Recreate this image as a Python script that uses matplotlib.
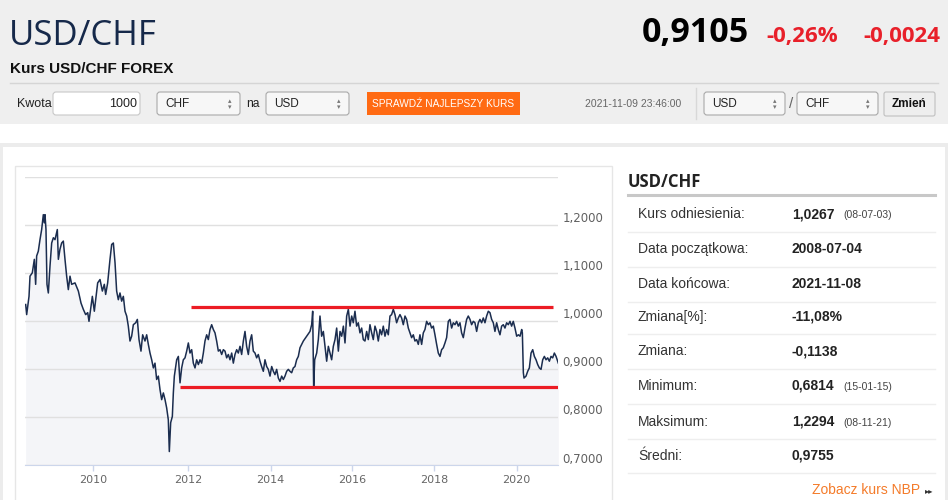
#!/usr/bin/env python

import numpy as np
import matplotlib
matplotlib.use('Agg')
import matplotlib.pyplot as plt
from matplotlib.patches import Rectangle, FancyBboxPatch
from matplotlib.transforms import ScaledTranslation

# USD/CHF quotes (decimal year, rate)
years = [2008.515, 2008.537, 2008.589, 2008.611, 2008.662, 2008.707, 2008.736, 2008.758, 2008.795, 2008.832,
         2008.869, 2008.906, 2008.928, 2008.943, 2008.965, 2008.987, 2009.017, 2009.054, 2009.091, 2009.128,
         2009.165, 2009.216, 2009.239, 2009.275, 2009.312, 2009.349, 2009.386, 2009.423, 2009.460, 2009.497,
         2009.534, 2009.608, 2009.682, 2009.741, 2009.792, 2009.844, 2009.889, 2009.918, 2009.962, 2009.992,
         2010.034, 2010.062, 2010.104, 2010.153, 2010.202, 2010.243, 2010.271, 2010.313, 2010.362, 2010.397,
         2010.432, 2010.467, 2010.501, 2010.536, 2010.571, 2010.606, 2010.641, 2010.676, 2010.711, 2010.745,
         2010.780, 2010.815, 2010.850, 2010.899, 2010.934, 2010.969, 2011.010, 2011.045, 2011.094, 2011.129,
         2011.164, 2011.199, 2011.234, 2011.269, 2011.303, 2011.338, 2011.373, 2011.408, 2011.443, 2011.478,
         2011.513, 2011.547, 2011.582, 2011.603, 2011.631, 2011.666, 2011.687, 2011.708, 2011.757, 2011.792,
         2011.827, 2011.861, 2011.896, 2011.931, 2011.966, 2012.001, 2012.041, 2012.082, 2012.122, 2012.163,
         2012.203, 2012.244, 2012.284, 2012.324, 2012.365, 2012.405, 2012.446, 2012.486, 2012.527, 2012.567,
         2012.608, 2012.648, 2012.688, 2012.729, 2012.769, 2012.810, 2012.850, 2012.891, 2012.931, 2012.972,
         2013.012, 2013.053, 2013.093, 2013.133, 2013.174, 2013.214, 2013.255, 2013.295, 2013.336, 2013.376,
         2013.416, 2013.457, 2013.497, 2013.538, 2013.578, 2013.619, 2013.659, 2013.699, 2013.740, 2013.780,
         2013.821, 2013.861, 2013.902, 2013.942, 2013.983, 2014.024, 2014.065, 2014.105, 2014.146, 2014.187,
         2014.228, 2014.269, 2014.310, 2014.350, 2014.391, 2014.432, 2014.473, 2014.514, 2014.554, 2014.595,
         2014.636, 2014.677, 2014.718, 2014.800, 2014.881, 2014.963, 2015.004, 2015.029, 2015.053, 2015.078,
         2015.127, 2015.167, 2015.208, 2015.249, 2015.290, 2015.331, 2015.372, 2015.413, 2015.454, 2015.494,
         2015.535, 2015.576, 2015.617, 2015.658, 2015.699, 2015.740, 2015.781, 2015.821, 2015.862, 2015.903,
         2015.944, 2015.985, 2016.024, 2016.065, 2016.106, 2016.146, 2016.187, 2016.228, 2016.268, 2016.309,
         2016.350, 2016.390, 2016.431, 2016.472, 2016.512, 2016.553, 2016.593, 2016.634, 2016.675, 2016.715,
         2016.756, 2016.797, 2016.837, 2016.878, 2016.919, 2016.959, 2017.000, 2017.041, 2017.081, 2017.122,
         2017.163, 2017.203, 2017.244, 2017.285, 2017.325, 2017.366, 2017.407, 2017.447, 2017.488, 2017.528,
         2017.569, 2017.610, 2017.650, 2017.691, 2017.732, 2017.772, 2017.813, 2017.854, 2017.894, 2017.935,
         2017.976, 2018.016, 2018.057, 2018.097, 2018.138, 2018.178, 2018.218, 2018.259, 2018.299, 2018.340,
         2018.380, 2018.421, 2018.461, 2018.502, 2018.542, 2018.583, 2018.623, 2018.663, 2018.704, 2018.744,
         2018.785, 2018.825, 2018.866, 2018.906, 2018.947, 2018.987, 2019.028, 2019.068, 2019.108, 2019.149,
         2019.189, 2019.230, 2019.270, 2019.311, 2019.351, 2019.392, 2019.432, 2019.472, 2019.513, 2019.553,
         2019.594, 2019.634, 2019.675, 2019.715, 2019.756, 2019.796, 2019.837, 2019.877, 2019.917, 2019.958,
         2020.000, 2020.040, 2020.080, 2020.120, 2020.136, 2020.160, 2020.176, 2020.224, 2020.264, 2020.304,
         2020.345, 2020.385, 2020.425, 2020.465, 2020.505, 2020.545, 2020.585, 2020.625, 2020.665, 2020.705,
         2020.745, 2020.785, 2020.825, 2020.865, 2020.905, 2020.946, 2021.000]

rates = [1.034, 1.013, 1.051, 1.093, 1.100, 1.128, 1.076, 1.135, 1.145, 1.169,
         1.190, 1.221, 1.204, 1.221, 1.190, 1.076, 1.058, 1.114, 1.162, 1.173,
         1.169, 1.190, 1.128, 1.149, 1.162, 1.166, 1.128, 1.093, 1.065, 1.093,
         1.076, 1.079, 1.062, 1.037, 1.024, 1.013, 1.017, 0.999, 1.030, 1.051,
         1.020, 1.044, 1.079, 1.086, 1.062, 1.076, 1.055, 1.079, 1.128, 1.159,
         1.162, 1.121, 1.062, 1.044, 1.058, 1.041, 1.051, 1.020, 1.010, 0.989,
         0.958, 0.968, 0.992, 0.996, 1.003, 0.961, 0.937, 0.971, 0.958, 0.971,
         0.951, 0.933, 0.919, 0.902, 0.912, 0.878, 0.885, 0.857, 0.836, 0.850,
         0.836, 0.819, 0.794, 0.728, 0.788, 0.801, 0.850, 0.885, 0.919, 0.926,
         0.871, 0.902, 0.919, 0.923, 0.937, 0.954, 0.933, 0.940, 0.912, 0.902,
         0.919, 0.909, 0.919, 0.912, 0.933, 0.958, 0.971, 0.961, 0.982, 0.992,
         0.982, 0.975, 0.958, 0.937, 0.940, 0.930, 0.940, 0.937, 0.923, 0.930,
         0.919, 0.933, 0.912, 0.930, 0.940, 0.933, 0.947, 0.930, 0.958, 0.978,
         0.947, 0.930, 0.958, 0.971, 0.937, 0.933, 0.923, 0.930, 0.916, 0.905,
         0.895, 0.919, 0.905, 0.899, 0.885, 0.905, 0.895, 0.888, 0.899, 0.881,
         0.874, 0.885, 0.878, 0.885, 0.895, 0.899, 0.895, 0.892, 0.902, 0.905,
         0.919, 0.926, 0.944, 0.958, 0.968, 0.978, 0.992, 1.020, 0.860, 0.919,
         0.933, 0.961, 1.010, 0.968, 0.978, 0.947, 0.916, 0.947, 0.933, 0.919,
         0.947, 0.961, 0.985, 0.937, 0.978, 0.968, 0.989, 0.954, 1.010, 1.024,
         0.989, 1.010, 0.996, 1.020, 0.989, 0.996, 0.975, 0.985, 0.961, 0.958,
         0.978, 0.961, 0.992, 0.975, 0.961, 0.989, 0.978, 0.958, 0.982, 0.971,
         0.989, 0.968, 0.982, 0.971, 1.010, 1.013, 1.024, 1.013, 0.996, 1.006,
         1.013, 1.006, 0.992, 1.010, 1.003, 0.985, 0.975, 0.965, 0.971, 0.958,
         0.961, 0.951, 0.971, 0.951, 0.975, 0.982, 0.999, 0.992, 0.996, 0.985,
         0.989, 0.971, 0.951, 0.933, 0.926, 0.940, 0.944, 0.954, 0.965, 0.999,
         1.003, 0.985, 0.996, 0.992, 0.999, 0.989, 0.996, 0.975, 0.965, 0.985,
         1.003, 1.010, 1.003, 0.992, 0.999, 0.996, 0.978, 0.996, 1.003, 0.996,
         1.006, 0.996, 1.010, 1.020, 1.017, 1.003, 0.996, 0.978, 0.996, 0.982,
         0.971, 0.989, 0.992, 0.985, 0.996, 0.992, 0.999, 0.989, 0.999, 0.985,
         0.968, 0.971, 0.968, 0.982, 0.975, 0.892, 0.881, 0.885, 0.895, 0.902,
         0.933, 0.940, 0.926, 0.919, 0.909, 0.902, 0.899, 0.919, 0.926, 0.919,
         0.923, 0.916, 0.926, 0.923, 0.933, 0.926, 0.912]

# hand drawn channel (level, start year, end year)
resistance = (1.028, 2012.06, 2020.87)
support = (0.862, 2011.83, 2021.0)

x_ticks = [2010, 2012, 2014, 2016, 2018, 2020]
y_ticks = [0.7, 0.8, 0.9, 1.0, 1.1, 1.2, 1.3]
y_labels = ['0,7000', '0,8000', '0,9000', '1,0000', '1,1000', '1,2000', '']

# ordinal axis of the stock chart: year -> screen position
ord_years = [2008.5, 2010, 2012, 2014, 2016, 2018, 2020, 2021]
ord_pos = [0, 67.7, 163.3, 245.7, 327.3, 409.3, 491.7, 533.3]

stat_labels = ['Kurs odniesienia:', 'Data początkowa:', 'Data końcowa:', 'Zmiana[%]:',
               'Zmiana:', 'Minimum:', 'Maksimum:', 'Średni:']
stat_values = ['1,0267', '2008-07-04', '2021-11-08', '-11,08%', '-0,1138', '0,6814', '1,2294', '0,9755']
stat_dates = ['(08-07-03)', '', '', '', '', '(15-01-15)', '(08-11-21)', '']

HEAD = ['Open Sans', 'DejaVu Sans']
ARIAL = ['Liberation Sans', 'DejaVu Sans']
NAVY = '#16294a'
RED = '#e8202a'


def select_box(bg, x, w, text):
    bg.add_patch(FancyBboxPatch((x, 92), w, 23, boxstyle='round,pad=0,rounding_size=3',
                                fc='#f7f7f7', ec='#a9a9a9', lw=0.8))
    bg.text(x + 8, 104, text, family=ARIAL, fontsize=8.5, va='center', color='#222222')
    bg.text(x + w - 10, 101, '▴', family='DejaVu Sans', fontsize=5, ha='center', va='center', color='#777777')
    bg.text(x + w - 10, 107, '▾', family='DejaVu Sans', fontsize=5, ha='center', va='center', color='#777777')


def main():
    fig = plt.figure(figsize=(9.48, 5.0), dpi=100)
    fig.patch.set_facecolor('white')

    # page decoration in pixel coordinates
    bg = fig.add_axes([0, 0, 1, 1])
    bg.set_xlim(0, 948)
    bg.set_ylim(500, 0)
    bg.axis('off')

    bg.add_patch(Rectangle((0, 0), 948, 124, color='#efefef', lw=0))
    bg.add_patch(Rectangle((0, 143), 948, 4, color='#ececec', lw=0))
    bg.add_patch(Rectangle((0, 143), 3, 357, color='#ececec', lw=0))
    bg.add_patch(Rectangle((945, 143), 3, 357, color='#ececec', lw=0))
    bg.add_patch(Rectangle((15, 166), 597, 345, fill=False, ec='#e6e6e6', lw=1))

    # header
    bg.text(9, 45, 'USD/CHF', family=HEAD, fontsize=25, color=NAVY, va='baseline')
    bg.text(749, 42, '0,9105', family=HEAD, fontsize=24.5, fontweight='bold', color='black',
            ha='right', va='baseline')
    bg.text(766, 42, '-0,26%', family=HEAD, fontsize=16, fontweight='bold', color=RED, va='baseline')
    bg.text(940, 42, '-0,0024', family=HEAD, fontsize=16, fontweight='bold', color=RED,
            ha='right', va='baseline')
    bg.text(10, 73, 'Kurs USD/CHF FOREX', family=ARIAL, fontsize=11, fontweight='bold',
            color='#111111', va='baseline')
    bg.plot([10, 938], [83, 83], color='#d5d5d5', lw=1)

    # controls row
    bg.text(17, 104, 'Kwota', family=ARIAL, fontsize=9, va='center', color='#222222')
    bg.add_patch(FancyBboxPatch((53, 92), 87, 23, boxstyle='round,pad=0,rounding_size=3',
                                fc='white', ec='#c8c8c8', lw=0.8))
    bg.text(137, 104, '1000', family=ARIAL, fontsize=9, ha='right', va='center', color='#222222')
    select_box(bg, 157, 83, 'CHF')
    bg.text(246, 104, 'na', family=ARIAL, fontsize=8.7, va='center', color='#222222')
    select_box(bg, 266, 83, 'USD')
    bg.add_patch(Rectangle((367, 92), 153, 23, color='#ff6a13', lw=0))
    bg.text(443.5, 104, 'SPRAWDŹ NAJLEPSZY KURS', family=ARIAL, fontsize=7.3, ha='center',
            va='center', color='white')
    bg.text(585, 104, '2021-11-09 23:46:00', family=ARIAL, fontsize=7.5, va='center', color='#666666')
    bg.plot([696, 696], [88, 119], color='#d8d8d8', lw=1)
    select_box(bg, 704, 81, 'USD')
    bg.text(791, 104, '/', family=ARIAL, fontsize=11, ha='center', va='center', color='#666666')
    select_box(bg, 797, 81, 'CHF')
    bg.add_patch(FancyBboxPatch((884, 92), 51, 24, boxstyle='round,pad=0,rounding_size=2',
                                fc='#eeeeee', ec='#c0c0c0', lw=0.8))
    bg.text(909.5, 104, 'Zmień', family=ARIAL, fontsize=8.5, fontweight='bold', ha='center',
            va='center', color='#111111')

    # stats panel
    bg.text(628, 187, 'USD/CHF', family=HEAD, fontsize=12, fontweight='bold', color='#222222',
            va='baseline')
    bg.plot([628, 935], [195, 195], color='#c8c8c8', lw=2.2)
    row_y = [214.3, 249.3, 284, 316.7, 351.3, 386, 421.7, 455.7]
    for i in range(len(stat_labels)):
        y = row_y[i]
        bg.text(638, y, stat_labels[i], family=ARIAL, fontsize=10, va='center', color='#333333')
        bg.text(792, y, stat_values[i], family=ARIAL, fontsize=10, fontweight='bold', va='center',
                color='#222222')
        if stat_dates[i]:
            bg.text(843, y + 1, stat_dates[i], family=ARIAL, fontsize=7.5, va='center', color='#444444')
        bg.plot([628, 935], [y + 17.5, y + 17.5], color='#eeeeee', lw=1)
    bg.text(920, 490, 'Zobacz kurs NBP', family=ARIAL, fontsize=10, ha='right', va='center',
            color='#f47b2a')
    bg.text(925, 491, '▸▸', family='DejaVu Sans', fontsize=6, va='center', color='#333333')

    # the chart itself
    ax = fig.add_axes([25 / 948, 1 - 465 / 500, 533.3 / 948, 288.3 / 500])
    ax.set_xscale('function', functions=(lambda x: np.interp(x, ord_years, ord_pos),
                                         lambda p: np.interp(p, ord_pos, ord_years)))
    ax.set_xlim(2008.5, 2021.0)
    ax.set_ylim(0.7, 1.3)
    ax.set_facecolor('none')

    ax.fill_between(years, rates, 0.7, color='#f4f5f8', lw=0, zorder=1)
    ax.plot(years, rates, color='#1b2d4f', lw=1.1, zorder=3)
    ax.hlines(resistance[0], resistance[1], resistance[2], color='#ec1c24', lw=2.3, zorder=4)
    ax.hlines(support[0], support[1], support[2], color='#ec1c24', lw=2.3, zorder=4)

    ax.set_yticks(y_ticks)
    ax.set_yticklabels([])
    ax.tick_params(axis='y', length=0)
    ax.grid(axis='y', color='#e0e0e0', lw=1, zorder=0)
    shift = ScaledTranslation(4 / 100, 6 / 100, fig.dpi_scale_trans)
    for v, lab in zip(y_ticks, y_labels):
        ax.text(1.0, v, lab, transform=ax.get_yaxis_transform() + shift, fontsize=8.5,
                color='#606060', va='center', ha='left')

    ax.set_xticks(x_ticks)
    ax.set_xticklabels([str(t) for t in x_ticks])
    ax.minorticks_off()
    ax.tick_params(axis='x', length=4, width=1, color='#ccd6eb', labelcolor='#666666',
                   labelsize=8, pad=3)
    for side in ['top', 'left', 'right']:
        ax.spines[side].set_visible(False)
    ax.spines['bottom'].set_color('#ccd6eb')

    fig.savefig('out.png', dpi=100)


if __name__ == '__main__':
    main()
